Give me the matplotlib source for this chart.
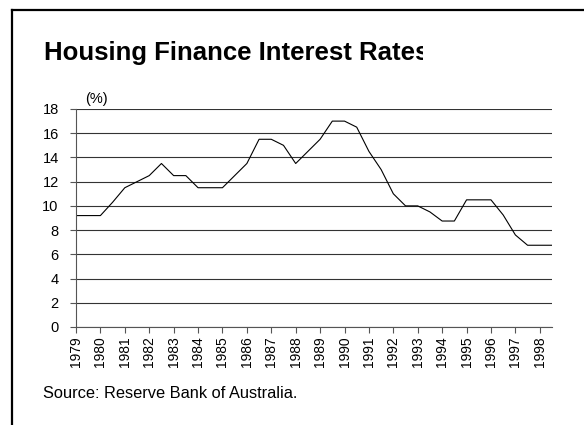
import numpy as np
import matplotlib.pyplot as plt
from matplotlib.lines import Line2D

plt.rcParams['font.family'] = ['Liberation Sans', 'DejaVu Sans']

# half-yearly observations, 1979 to mid 1998
years = np.arange(1979, 1999, 0.5)
rates = [9.2, 9.2, 9.2, 10.3, 11.5, 12.0, 12.5, 13.5, 12.5, 12.5,
         11.5, 11.5, 11.5, 12.5, 13.5, 15.5, 15.5, 15.0, 13.5, 14.5,
         15.5, 17.0, 17.0, 16.5, 14.5, 13.0, 11.0, 10.0, 10.0, 9.5,
         8.75, 8.75, 10.5, 10.5, 10.5, 9.25, 7.6, 6.75, 6.75, 6.75]
tick_years = list(range(1979, 1999))

W, H = 584, 425
fig = plt.figure(figsize=(W / 100, H / 100), dpi=100)

# frame around chart (only left and top visible)
fig.add_artist(Line2D([12 / W, 12 / W], [0, 1 - 10 / H], color='black', lw=1.6))
fig.add_artist(Line2D([12 / W, 1], [1 - 10 / H, 1 - 10 / H], color='black', lw=1.6))

# title, clipped at the right like the original
tax = fig.add_axes([44 / W, 1 - 70 / H, (423 - 44) / W, 40 / H])
tax.axis('off')
tax.text(0, 1 - (53 - 30) / 40, 'Housing Finance Interest Rates', fontsize=18.5,
         fontweight='bold', va='center', ha='left', transform=tax.transAxes,
         clip_on=True)

x0, x1 = 76, 552
y0, y1 = 327, 109
ax = fig.add_axes([x0 / W, 1 - y0 / H, (x1 - x0) / W, (y0 - y1) / H])
ax.plot(years, rates, color='black', lw=0.8)
ax.set_xlim(1979, 1998.5)
ax.set_ylim(0, 18)
ax.set_yticks(range(0, 19, 2))
ax.set_xticks(tick_years)
ax.set_xticklabels([str(y) for y in tick_years], rotation=90)
ax.yaxis.grid(True, color='#333333', lw=0.8)
ax.set_axisbelow(True)
for s in ['top', 'right']:
    ax.spines[s].set_visible(False)
ax.spines['left'].set_color('#555555')
ax.spines['bottom'].set_color('#555555')
ax.tick_params(axis='y', labelsize=10.5, length=4.5, width=0.8, color='#555555', pad=8)
ax.tick_params(axis='x', labelsize=10, length=4.5, width=0.8, color='#555555', pad=2)

fig.text(85 / W, 1 - 99 / H, '(%)', fontsize=10.5, va='center', ha='left')
fig.text(43 / W, 1 - 393 / H, 'Source: Reserve Bank of Australia.', fontsize=11.8,
         va='center', ha='left')

fig.savefig('out.png', dpi=100)
